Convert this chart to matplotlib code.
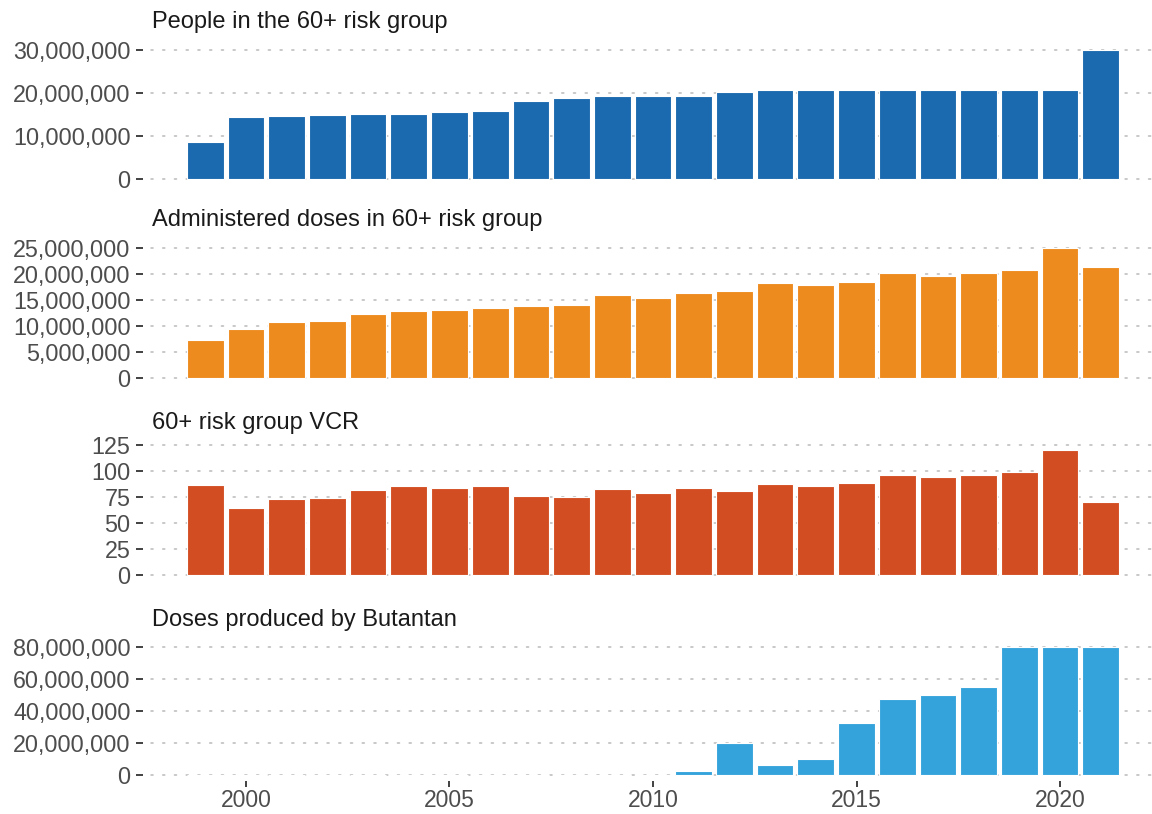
import numpy as np
import matplotlib
matplotlib.use("Agg")
import matplotlib.pyplot as plt
from matplotlib.ticker import FuncFormatter, MultipleLocator

plt.rcParams['font.family'] = ['Liberation Sans', 'DejaVu Sans']

# data
years = list(range(1999, 2022))

people_60 = [8.6, 14.5, 14.7, 14.8, 15.0, 15.2, 15.6, 15.7, 18.2, 18.8, 19.2, 19.2,
             19.2, 20.3, 20.7, 20.7, 20.7, 20.7, 20.7, 20.7, 20.7, 20.7, 30.0]
doses_admin = [7.4, 9.4, 10.7, 11.0, 12.3, 12.9, 13.1, 13.5, 13.8, 14.0, 16.0, 15.3,
               16.3, 16.7, 18.2, 17.9, 18.5, 20.2, 19.7, 20.2, 20.7, 25.1, 21.4]
vcr = [86, 64, 72.6, 73.6, 81.4, 85, 83.3, 85.2, 75.5, 74.5, 82.4, 78.3,
       83.6, 81.1, 87.4, 85.2, 88.7, 96.5, 93.7, 96.5, 98.7, 120.1, 70.4]
doses_butantan = [0, 0, 0, 0, 0, 0, 0, 0, 0, 0, 0, 0,
                  2.7, 20.0, 6.1, 9.9, 32.8, 47.3, 50.0, 54.8, 80.0, 80.0, 80.0]

titles = ["People in the 60+ risk group",
          "Administered doses in 60+ risk group",
          "60+ risk group VCR",
          "Doses produced by Butantan"]
colors = ["#1B69AE", "#EE8B1F", "#D24E22", "#35A3DB"]
scales = [1e6, 1e6, 1, 1e6]
steps = [10e6, 5e6, 25, 20e6]
series = [people_60, doses_admin, vcr, doses_butantan]
x_ticks = [2000, 2005, 2010, 2015, 2020]

W, H = 1152, 814
fig = plt.figure(figsize=(W / 100, H / 100), dpi=100)

# panel vertical extents in pixels (top, bottom)
panel_px = [(43.5, 185.5), (241, 384.5), (443.7, 581.2), (640.6, 781.4)]
left_px = 143

for i, (vals, title, col, sc, st) in enumerate(zip(series, titles, colors, scales, steps)):
    top, bot = panel_px[i]
    ax = fig.add_axes([left_px / W, 1 - bot / H, (W - left_px) / W, (bot - top) / H])
    v = np.array(vals) * sc
    ax.bar(years, v, width=0.9, color=col, edgecolor="white", linewidth=0.8, zorder=3)
    vmax = v.max()
    ax.set_ylim(-0.05 * vmax, 1.05 * vmax)
    ax.set_xlim(1997.47, 2022.26)
    ax.yaxis.set_major_locator(MultipleLocator(st))
    ax.yaxis.set_major_formatter(FuncFormatter(lambda y, p: f"{y:,.0f}"))
    ax.grid(axis="y", color="#C4C4C4", linestyle=(2, (1, 5.5)), linewidth=1.3,
            dash_capstyle="round", zorder=0)
    for s in ax.spines.values():
        s.set_visible(False)
    ax.tick_params(axis="y", length=5, width=1.3, color="#333333",
                   labelsize=16.8, labelcolor="#4D4D4D", pad=4)
    ax.set_xticks(x_ticks)
    if i == 3:
        ax.tick_params(axis="x", length=4, width=1.3, color="#333333",
                       labelsize=16.5, labelcolor="#4D4D4D", pad=1.5)
    else:
        ax.tick_params(axis="x", length=0, labelbottom=False)
    # panel title sits just above the panel, aligned with the plotting area
    ax.text(9 / (W - left_px), 1 + 10 / (bot - top), title, transform=ax.transAxes,
            ha="left", va="bottom", fontsize=17, color="#1A1A1A")

fig.savefig("out.png", dpi=100)
